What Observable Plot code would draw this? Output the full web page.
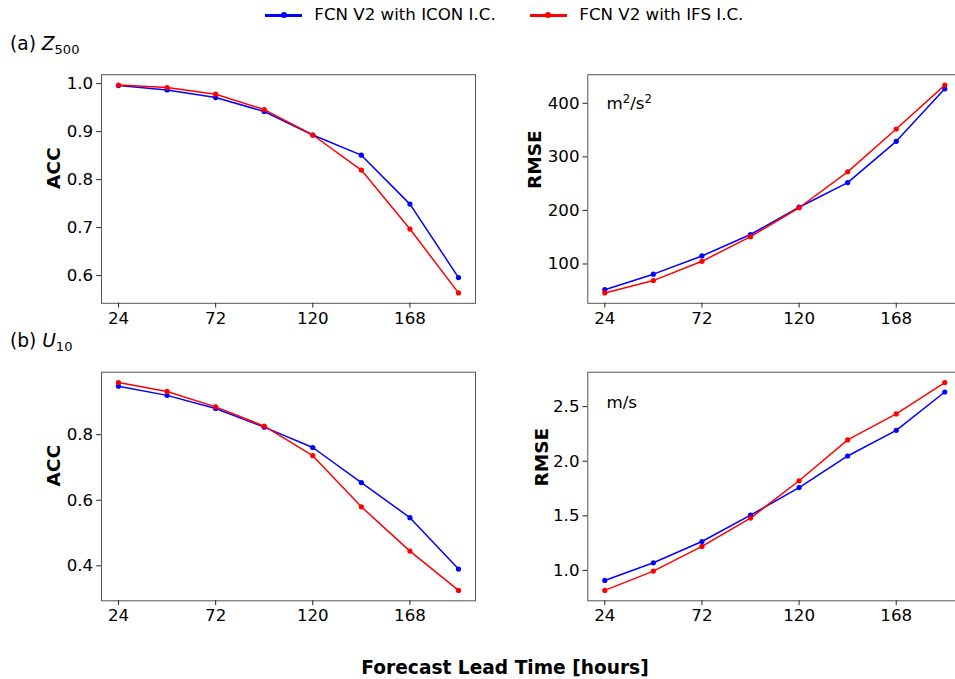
<!DOCTYPE html>
<html>
<head>
<meta charset="utf-8">
<script src="https://cdn.jsdelivr.net/npm/d3@7"></script>
<script src="https://cdn.jsdelivr.net/npm/@observablehq/plot@0.6"></script>
<style>
  body { margin: 0; background: #fff; }
  #fig { position: relative; width: 955px; height: 679px; overflow: hidden; background: #fff;
         font-family: "DejaVu Sans", sans-serif; color: #000; }
  .abs { position: absolute; white-space: nowrap; line-height: 1; }
  .t { font-size: 16.67px; }
  .big { font-size: 18.6px; }
  .panel { position: absolute; width: 490px; height: 300px; }
  .panel svg { max-width: none !important; }
  .sw { position: absolute; height: 3px; width: 37px; }
  .dot { position: absolute; width: 6px; height: 6px; border-radius: 50%; }
  .sup { font-size: 70%; position: relative; top: -0.5em; }
  .sub { font-size: 70%; position: relative; top: 0.32em; }
</style>
</head>
<body>
<div id="fig"></div>
<script>
// ---- data ----
const hours = [24, 48, 72, 96, 120, 144, 168, 192];
const hourTicks = [24, 72, 120, 168];
const seriesNames = ["FCN V2 with ICON I.C.", "FCN V2 with IFS I.C."];
const seriesColors = ["#0000ff", "#ff0000"];

const z500AccIcon = [0.996, 0.987, 0.971, 0.942, 0.893, 0.851, 0.749, 0.596];
const z500AccIfs  = [0.997, 0.992, 0.978, 0.946, 0.893, 0.820, 0.697, 0.564];
const z500RmseIcon = [52, 81, 115, 155, 206, 252, 329, 427];
const z500RmseIfs  = [46, 69, 105, 151, 205, 272, 352, 434];
const u10AccIcon = [0.948, 0.920, 0.880, 0.823, 0.761, 0.654, 0.547, 0.390];
const u10AccIfs  = [0.959, 0.932, 0.885, 0.826, 0.736, 0.580, 0.445, 0.325];
const u10RmseIcon = [0.908, 1.070, 1.265, 1.506, 1.759, 2.048, 2.283, 2.634];
const u10RmseIfs  = [0.817, 0.994, 1.220, 1.479, 1.821, 2.195, 2.433, 2.720];

const z500AccTicks = [0.6, 0.7, 0.8, 0.9, 1.0];
const z500RmseTicks = [100, 200, 300, 400];
const u10AccTicks = [0.4, 0.6, 0.8];
const u10RmseTicks = [1.0, 1.5, 2.0, 2.5];

const fig = document.getElementById("fig");

function padded(vals) {
  const lo = d3.min(vals), hi = d3.max(vals), p = (hi - lo) * 0.05;
  return [lo - p, hi + p];
}

function panel(o) {
  const W = 490, H = 300, FW = 374, FH = 228.6;
  const marks = [
    Plot.frame({stroke: "#555", strokeWidth: 1}),
    Plot.axisX({ticks: hourTicks, tickSize: 4.8, tickPadding: 4, label: null, stroke: "#222", fontSize: 16.67}),
    Plot.axisY({ticks: o.ticks, tickFormat: o.fmt, tickSize: 4.8, tickPadding: 3.5, label: null, stroke: "#222", fontSize: 16.67})
  ];
  [o.icon, o.ifs].forEach((vals, k) => {
    const rows = hours.map((h, i) => ({h, v: vals[i], s: seriesNames[k]}));
    marks.push(Plot.line(rows, {x: "h", y: "v", stroke: seriesColors[k], strokeWidth: 1.5}));
    marks.push(Plot.dot(rows, {x: "h", y: "v", fill: seriesColors[k], r: 2.6}));
  });
  marks.push(Plot.text([o.label], {frameAnchor: "left", text: d => d, rotate: -90, dx: o.labelDx,
    fontWeight: "bold", fontSize: 18.5, fill: "#000"}));
  const chart = Plot.plot({
    width: W, height: H,
    marginLeft: o.mLeft, marginRight: W - o.mLeft - FW,
    marginTop: o.mTop, marginBottom: H - o.mTop - FH,
    x: {domain: padded(hours)},
    y: {domain: padded(o.icon.concat(o.ifs))},
    style: {fontFamily: "DejaVu Sans", fontSize: "16.67px", color: "#000", background: "transparent",
            overflow: "visible", maxWidth: "none"},
    marks
  });
  const wrap = document.createElement("div");
  wrap.className = "panel";
  wrap.style.left = o.left + "px";
  wrap.style.top = o.top + "px";
  wrap.appendChild(chart);
  fig.appendChild(wrap);
}

const f1 = d => d.toFixed(1);
const f0 = d => d.toFixed(0);

panel({icon: z500AccIcon, ifs: z500AccIfs, ticks: z500AccTicks, fmt: f1, label: "ACC",
  left: 0, top: 40, mLeft: 101, mTop: 34.2, labelDx: -47});
panel({icon: z500RmseIcon, ifs: z500RmseIfs, ticks: z500RmseTicks, fmt: f0, label: "RMSE",
  left: 480, top: 40, mLeft: 107.3, mTop: 34.2, labelDx: -52.3});
panel({icon: u10AccIcon, ifs: u10AccIfs, ticks: u10AccTicks, fmt: f1, label: "ACC",
  left: 0, top: 340, mLeft: 101, mTop: 31.7, labelDx: -47.7});
panel({icon: u10RmseIcon, ifs: u10RmseIfs, ticks: u10RmseTicks, fmt: f1, label: "RMSE",
  left: 480, top: 340, mLeft: 107.3, mTop: 31.7, labelDx: -45.6});

// ---- legend, panel labels, units, x label (HTML text) ----
function addDiv(html, cls, style) {
  const d = document.createElement("div");
  d.className = cls;
  Object.assign(d.style, style);
  d.innerHTML = html;
  fig.appendChild(d);
  return d;
}
const legendPos = [{line: 265, text: 314.3}, {line: 529.5, text: 579.3}];
seriesNames.forEach((name, k) => {
  addDiv("", "sw", {left: legendPos[k].line + "px", top: "13.5px", background: seriesColors[k]});
  addDiv("", "dot", {left: (legendPos[k].line + 15.5) + "px", top: "12px", background: seriesColors[k]});
  addDiv(name, "abs t", {left: legendPos[k].text + "px", top: "7.4px"});
});
addDiv('(a) <i>Z</i><span class="sub">500</span>', "abs big", {left: "10px", top: "34.5px"});
addDiv('(b) <i>U</i><span class="sub">10</span>', "abs big", {left: "10px", top: "331.5px"});
addDiv('m<span class="sup">2</span>/s<span class="sup">2</span>', "abs t", {left: "606.5px", top: "96px"});
addDiv('m/s', "abs t", {left: "606.5px", top: "395px"});
addDiv("Forecast Lead Time [hours]", "abs", {left: "505px", top: "658.8px", transform: "translateX(-50%)",
  fontWeight: "bold", fontSize: "18.6px"});
</script>
</body>
</html>
